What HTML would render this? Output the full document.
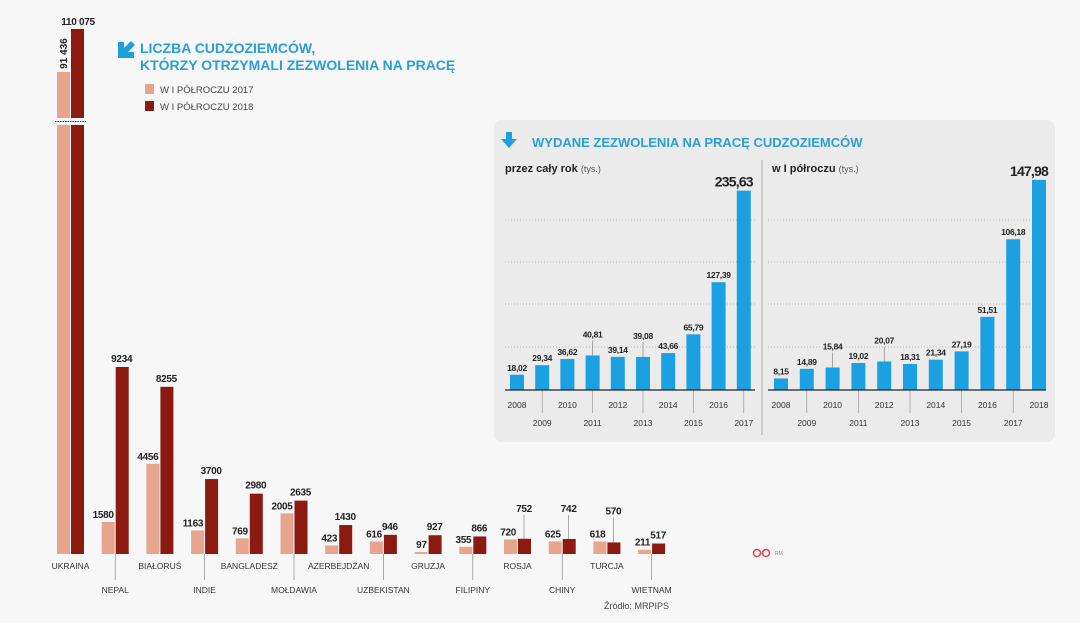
<!DOCTYPE html>
<html><head><meta charset="utf-8">
<style>
html,body{margin:0;padding:0;background:#f7f7f7;}
svg{display:block;font-family:"Liberation Sans",sans-serif;}
</style></head>
<body>
<svg id="c" width="1080" height="623" viewBox="0 0 1080 623" xmlns="http://www.w3.org/2000/svg">
<rect width="1080" height="623" fill="#f7f7f7"/>
<g>
<path d="M118 42 h6 v6 l7 -7 l4 4 l-7 7 h6 v6 h-16z" fill="#1fa0dc"/>
<text x="140" y="53" font-size="14" font-weight="bold" fill="#2a9fd6">LICZBA CUDZOZIEMCÓW,</text>
<text x="140" y="70" font-size="14" font-weight="bold" fill="#2a9fd6">KTÓRZY OTRZYMALI ZEZWOLENIA NA PRACĘ</text>
</g>
<g>
<rect x="145" y="84" width="9" height="10" fill="#e8a58e"/>
<text x="160" y="93" font-size="9.5" fill="#444">W I PÓŁROCZU 2017</text>
<rect x="145" y="101" width="9" height="10" fill="#8b1a10"/>
<text x="160" y="110" font-size="9.5" fill="#444">W I PÓŁROCZU 2018</text>
</g>
<g id="main"></g>
<g>
<rect x="494" y="120" width="561" height="322" rx="8" fill="#ebebeb"/>
<path d="M506 132 h6 v7 h5 l-8 9 l-8 -9 h5z" fill="#1fa0dc"/>
<text x="532" y="147" font-size="13" font-weight="bold" fill="#2a9fd6">WYDANE ZEZWOLENIA NA PRACĘ CUDZOZIEMCÓW</text>
<text x="505" y="172" font-size="11" font-weight="bold" fill="#222">przez cały rok <tspan font-weight="normal" font-size="9" fill="#555">(tys.)</tspan></text>
<text x="772" y="172" font-size="11" font-weight="bold" fill="#222">w I półroczu <tspan font-weight="normal" font-size="9" fill="#555">(tys.)</tspan></text>
<line x1="762" y1="160" x2="762" y2="435" stroke="#aaa" stroke-width="1"/>
</g>
<g id="left"></g>
<g id="right"></g>
<g>
<circle cx="757" cy="553" r="3.5" fill="none" stroke="#d44" stroke-width="1.5"/>
<circle cx="766" cy="553" r="3.5" fill="none" stroke="#d44" stroke-width="1.5"/>
<text x="775" y="555" font-size="5" fill="#888">RM</text>
</g>
<text x="604" y="609" font-size="9" fill="#444">Źródło: MRPIPS</text>
</svg>
<script>
const countries=["UKRAINA","NEPAL","BIAŁORUŚ","INDIE","BANGLADESZ","MOŁDAWIA","AZERBEJDŻAN","UZBEKISTAN","GRUZJA","FILIPINY","ROSJA","CHINY","TURCJA","WIETNAM"];
const v2017=[91436,1580,4456,1163,769,2005,423,616,97,355,720,625,618,211];
const v2018=[110075,9234,8255,3700,2980,2635,1430,946,927,866,752,742,570,517];
const yearsA=["2008","2009","2010","2011","2012","2013","2014","2015","2016","2017"];
const valsA=[18.02,29.34,36.62,40.81,39.14,39.08,43.66,65.79,127.39,235.63];
const yearsH=["2008","2009","2010","2011","2012","2013","2014","2015","2016","2017","2018"];
const valsH=[8.15,14.89,15.84,19.02,20.07,18.31,21.34,27.19,51.51,106.18,147.98];

const NS="http://www.w3.org/2000/svg";
function mk(p,t,a){const e=document.createElementNS(NS,t);for(const k in a)e.setAttribute(k,a[k]);p.appendChild(e);return e;}
function fmt(v){return v>=10000?String(v).replace(/\B(?=(\d{3})+(?!\d))/g," "):String(v);}
function fmtc(v){return v.toFixed(2).replace(".",",");}

const main=document.getElementById("main");
const base=554, k=187/9234;
const xPair=i=>57+i*44.7;
const yMain=v=>base-v*k;
const brk=125, yTop=v=>29+(110075-v)*0.0023;
countries.forEach((c,i)=>{
  const x=xPair(i);
  const big=v2018[i]>20000;
  [[v2017[i],"#e8a58e",0],[v2018[i],"#8b1a10",14]].forEach(([v,col,dx],j)=>{
    let r;
    if(big){
      r=mk(main,"rect",{x:x+dx,y:brk,width:13,height:base-brk,fill:col});
      
      
      const r2=mk(main,"rect",{x:x+dx,y:yTop(v),width:13,height:118-yTop(v),fill:col});
      
      
    }else{
      r=mk(main,"rect",{x:x+dx,y:yMain(v),width:13,height:v*k,fill:col});
      
      
    }
  });
  if(big){
    mk(main,"line",{x1:x-2,y1:121.5,x2:x+29,y2:121.5,stroke:"#333","stroke-width":1,"stroke-dasharray":"1.5,1"});
    const t=mk(main,"text",{x:x+21,y:yTop(v2018[i])-4,"font-size":10,"font-weight":"bold","text-anchor":"middle",fill:"#222","letter-spacing":-0.3});
    t.textContent=fmt(v2018[i]);
    
    
    const t2=mk(main,"text",{x:0,y:0,"font-size":10,"font-weight":"bold",fill:"#222",transform:`translate(${x+10},${yTop(v2017[i])-3}) rotate(-90)`});
    t2.textContent=fmt(v2017[i]);
    
    
  }else{
    const close=v2018[i]-v2017[i]<300 || v2017[i]>v2018[i];
    let ly=yMain(v2018[i])-5;
    if(close){
      ly=yMain(Math.max(v2017[i],v2018[i]))-27;
      mk(main,"line",{x1:x+20,y1:ly+3,x2:x+20,y2:yMain(v2018[i]),stroke:"#777","stroke-width":0.6});
    }
    const t=mk(main,"text",{x:x+20,y:ly,"font-size":10,"font-weight":"bold","text-anchor":"middle",fill:"#222","letter-spacing":-0.3});
    t.textContent=fmt(v2018[i]);
    
    
    const t2=mk(main,"text",{x:x+12,y:yMain(v2017[i])-4,"font-size":10,"font-weight":"bold","text-anchor":"end",fill:"#222","letter-spacing":-0.3});
    t2.textContent=fmt(v2017[i]);
    
    
  }
  const down=i%2===1;
  const cx=x+13.5;
  if(down) mk(main,"line",{x1:cx,y1:base,x2:cx,y2:580,stroke:"#888","stroke-width":0.7});
  const lt=mk(main,"text",{x:cx,y:down?593:569,"font-size":8.5,"text-anchor":"middle",fill:"#333"});
  lt.textContent=c;
  
  
});

function inset(id,years,vals,x0,step,kk,x1,x2,lifted){
  const g=document.getElementById(id);
  const b=390, y=v=>b-v*kk;
  [220,262,304,347].forEach(gy=>mk(g,"line",{x1:x1,y1:gy,x2:x2,y2:gy,stroke:"#aaa","stroke-width":0.8,"stroke-dasharray":"1,2"}));
  years.forEach((yr,i)=>{
    const x=x0+i*step;
    const r=mk(g,"rect",{x:x,y:y(vals[i]),width:14,height:vals[i]*kk,fill:"#1ba1e2"});
    
    
    const last=i===years.length-1;
    let ly=y(vals[i])-4;
    if(lifted.includes(i)){ly=y(vals[i])-18;mk(g,"line",{x1:x+7,y1:ly+3,x2:x+7,y2:y(vals[i]),stroke:"#777","stroke-width":0.6});}
    const t=mk(g,"text",{x:last?x+16:x+7,y:ly,"font-size":last?14:8.5,"font-weight":"bold","text-anchor":last?"end":"middle",fill:"#222","letter-spacing":last?-0.8:-0.3});
    t.textContent=fmtc(vals[i]);
    
    
    const odd=i%2===1;
    if(odd) mk(g,"line",{x1:x+7,y1:b,x2:x+7,y2:413,stroke:"#888","stroke-width":0.6});
    const yt=mk(g,"text",{x:x+7,y:odd?426:408,"font-size":8.5,"text-anchor":"middle",fill:"#333"});
    yt.textContent=yr;
    
    
  });
  mk(g,"line",{x1:x1,y1:b,x2:x2,y2:b,stroke:"#222","stroke-width":1.2});
}
inset("left",yearsA,valsA,510,25.2,0.846,505,755,[3,5]);
inset("right",yearsH,valsH,774,25.8,1.42,768,1046,[2,4]);
</script>
</body></html>
